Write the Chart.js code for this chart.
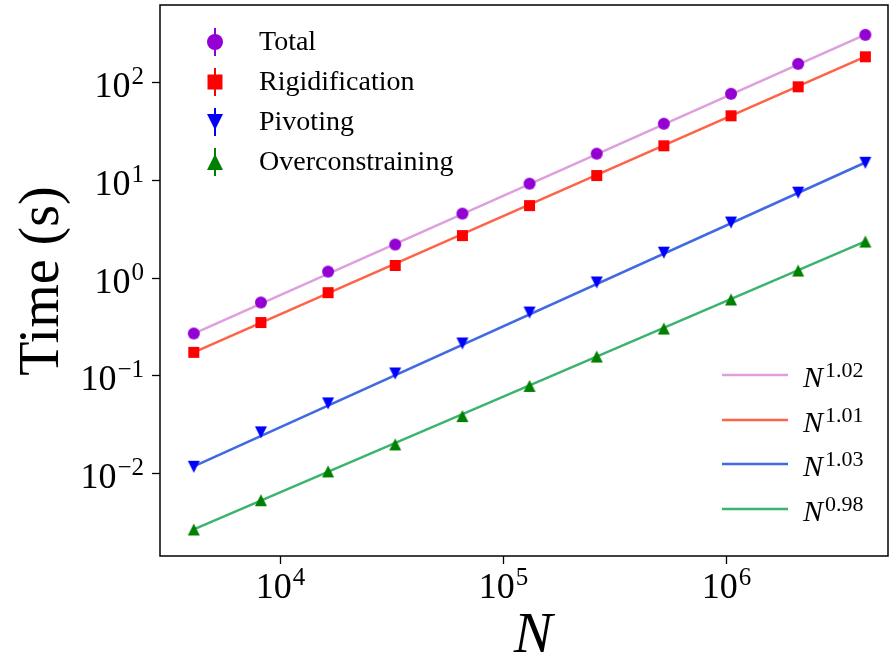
<!DOCTYPE html>
<html>
<head>
<meta charset="utf-8">
<script src="https://cdn.jsdelivr.net/npm/chart.js@4.4.0/dist/chart.umd.min.js"></script>
<style>
  html, body { margin: 0; padding: 0; background: #fff; }
</style>
</head>
<body>
<canvas id="mychart" width="890" height="657"></canvas>
<script>
// system sizes N = 2^12 ... 2^22
const sizes = [4096, 8192, 16384, 32768, 65536, 131072, 262144, 524288, 1048576, 2097152, 4194304];

// timings in seconds
const total = [0.267, 0.555, 1.15, 2.18, 4.52, 9.17, 18.6, 37.7, 76.4, 155, 307];
const rigidification = [0.171, 0.346, 0.70, 1.33, 2.69, 5.46, 11.1, 22.4, 45.5, 90.2, 183];
const pivoting = [0.0115, 0.0259, 0.0513, 0.104, 0.211, 0.438, 0.89, 1.80, 3.66, 7.41, 15.0];
const overconstraining = [0.00262, 0.00522, 0.0103, 0.0195, 0.0380, 0.0775, 0.155, 0.30, 0.596, 1.18, 2.34];

// power-law fits, end points at the first and last N
const fitN = [4096, 4194304];
const fitTotal = [0.266, 309];
const fitRigid = [0.171, 184];
const fitPivot = [0.0116, 15.1];
const fitOver = [0.00262, 2.35];
const fitExponents = ['1.02', '1.01', '1.03', '0.98'];

const seriesNames = ['Total', 'Rigidification', 'Pivoting', 'Overconstraining'];
const xTicks = [1e4, 1e5, 1e6];
const yTicks = [1e-2, 1e-1, 1e0, 1e1, 1e2];

const FONT = '"Liberation Serif", "DejaVu Serif", serif';

function makeMarker(shape, size, color) {
  const c = document.createElement('canvas');
  c.width = size + 2;
  c.height = size + 2;
  const g = c.getContext('2d');
  const m = (size + 2) / 2, h = size / 2;
  g.fillStyle = color;
  g.beginPath();
  if (shape === 'circle') {
    g.arc(m, m, h, 0, Math.PI * 2);
  } else if (shape === 'square') {
    g.rect(m - h, m - h, size, size);
  } else if (shape === 'up') {
    g.moveTo(m, m - h); g.lineTo(m + h, m + h); g.lineTo(m - h, m + h);
  } else {
    g.moveTo(m, m + h); g.lineTo(m + h, m - h); g.lineTo(m - h, m - h);
  }
  g.closePath();
  g.fill();
  return c;
}

const markerColors = ['#9400d3', '#ff0000', '#0000ff', '#008000'];
const markerShapes = ['circle', 'square', 'down', 'up'];
const fitColors = ['#dda0dd', '#ff6347', '#4169e1', '#3cb371'];

function pts(xs, ys) { return xs.map((x, i) => ({ x: x, y: ys[i] })); }

const seriesData = [total, rigidification, pivoting, overconstraining];
const fitData = [fitTotal, fitRigid, fitPivot, fitOver];

const datasets = [];
seriesData.forEach((ys, i) => {
  datasets.push({
    label: seriesNames[i],
    data: pts(sizes, ys),
    showLine: false,
    pointStyle: makeMarker(markerShapes[i], markerShapes[i] === 'square' ? 11 : 12, markerColors[i]),
    pointRadius: 6,
    order: 0
  });
});
fitData.forEach((ys, i) => {
  datasets.push({
    label: 'N^' + fitExponents[i],
    data: pts(fitN, ys),
    borderColor: fitColors[i],
    borderWidth: 2.5,
    pointRadius: 0,
    tension: 0,
    order: 1
  });
});

// 10 with a raised exponent
function drawPower(ctx, exp, x, y, align, baseSize, supSize) {
  const base = '10';
  const sup = exp < 0 ? '\u2212' + Math.abs(exp) : String(exp);
  ctx.font = baseSize + 'px ' + FONT;
  const wb = ctx.measureText(base).width;
  ctx.font = supSize + 'px ' + FONT;
  const ws = ctx.measureText(sup).width;
  const w = wb + ws + 1;
  let left = x;
  if (align === 'right') left = x - w;
  if (align === 'center') left = x - w / 2;
  ctx.textAlign = 'left';
  ctx.textBaseline = 'alphabetic';
  ctx.font = baseSize + 'px ' + FONT;
  ctx.fillText(base, left, y);
  ctx.font = supSize + 'px ' + FONT;
  ctx.fillText(sup, left + wb + 1, y - 13);
}

function drawLegendMarker(ctx, shape, color, x, y) {
  ctx.strokeStyle = color;
  ctx.lineWidth = 2;
  ctx.beginPath();
  ctx.moveTo(x, y - 14);
  ctx.lineTo(x, y + 14);
  ctx.stroke();
  const img = makeMarker(shape, shape === 'square' ? 15 : 16, color);
  ctx.drawImage(img, x - img.width / 2, y - img.height / 2);
}

const decorations = {
  id: 'decorations',
  afterDraw(chart) {
    const ctx = chart.ctx;
    const a = chart.chartArea;
    const xs = chart.scales.x, ys = chart.scales.y;
    ctx.save();
    ctx.fillStyle = '#000';
    ctx.strokeStyle = '#000';

    // frame
    ctx.lineWidth = 1.5;
    ctx.strokeRect(a.left, a.top, a.right - a.left, a.bottom - a.top);

    // y ticks and labels
    ctx.lineWidth = 1.3;
    yTicks.forEach(v => {
      const py = Math.round(ys.getPixelForValue(v)) + 0.5;
      ctx.beginPath();
      ctx.moveTo(a.left - 8, py);
      ctx.lineTo(a.left, py);
      ctx.stroke();
      drawPower(ctx, Math.round(Math.log10(v)), a.left - 16, py + 14, 'right', 36, 25);
    });

    // x ticks and labels
    xTicks.forEach(v => {
      const px = Math.round(xs.getPixelForValue(v)) + 0.5;
      ctx.beginPath();
      ctx.moveTo(px, a.bottom);
      ctx.lineTo(px, a.bottom + 8);
      ctx.stroke();
      drawPower(ctx, Math.round(Math.log10(v)), px, 598, 'center', 36, 25);
    });

    // axis titles
    ctx.font = 'italic 58px ' + FONT;
    ctx.textAlign = 'center';
    ctx.textBaseline = 'alphabetic';
    ctx.fillText('N', 533, 652);

    ctx.save();
    ctx.translate(58, 281);
    ctx.rotate(-Math.PI / 2);
    ctx.font = '56px ' + FONT;
    ctx.textAlign = 'center';
    ctx.fillText('Time (s)', 0, 0);
    ctx.restore();

    // legend for the measured series
    const rowsTop = [42, 82, 122, 162];
    seriesNames.forEach((name, i) => {
      drawLegendMarker(ctx, markerShapes[i], markerColors[i], 215, rowsTop[i]);
      ctx.fillStyle = '#000';
      ctx.font = '28px ' + FONT;
      ctx.textAlign = 'left';
      ctx.textBaseline = 'middle';
      ctx.fillText(name, 259, rowsTop[i] + 1);
    });

    // legend for the fits
    const rowsFit = [375, 420, 464, 509];
    fitExponents.forEach((e, i) => {
      ctx.strokeStyle = fitColors[i];
      ctx.lineWidth = 2.7;
      ctx.beginPath();
      ctx.moveTo(722, rowsFit[i]);
      ctx.lineTo(788, rowsFit[i]);
      ctx.stroke();
      ctx.fillStyle = '#000';
      ctx.textAlign = 'left';
      ctx.textBaseline = 'alphabetic';
      ctx.font = 'italic 30px ' + FONT;
      ctx.fillText('N', 803, rowsFit[i] + 12);
      const wN = ctx.measureText('N').width;
      ctx.font = '22px ' + FONT;
      ctx.fillText(e, 803 + wN + 2, rowsFit[i] + 2);
    });

    ctx.restore();
  }
};

const ctx = document.getElementById('mychart').getContext('2d');
const myChart = new Chart(ctx, {
  type: 'line',
  data: { datasets: datasets },
  options: {
    responsive: false,
    animation: false,
    layout: { autoPadding: false, padding: { left: 160, top: 5, right: 2, bottom: 101 } },
    plugins: { legend: { display: false }, tooltip: { enabled: false } },
    scales: {
      x: { type: 'logarithmic', display: false, min: 2891, max: 5.30e6 },
      y: { type: 'logarithmic', display: false, min: 1.40e-3, max: 621 }
    }
  },
  plugins: [decorations]
});
</script>
</body>
</html>
